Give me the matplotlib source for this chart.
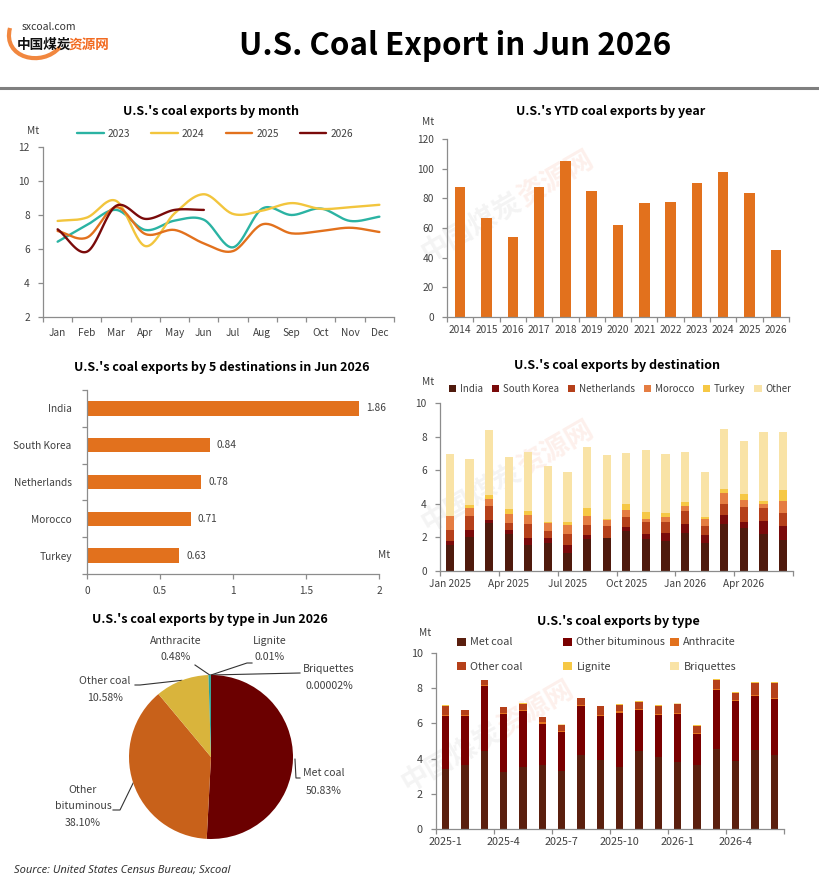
import numpy as np
import matplotlib
matplotlib.use("Agg")
import matplotlib.pyplot as plt
from matplotlib.path import Path
from matplotlib.patches import PathPatch

plt.rcParams['font.family'] = ['Noto Sans CJK SC', 'DejaVu Sans']

# ---------------- data ----------------
months = ["Jan", "Feb", "Mar", "Apr", "May", "Jun", "Jul", "Aug", "Sep", "Oct", "Nov", "Dec"]
y2023 = [6.43, 7.41, 8.30, 7.12, 7.67, 7.72, 6.10, 8.38, 8.00, 8.38, 7.65, 7.90]
y2024 = [7.65, 7.85, 8.83, 6.17, 8.10, 9.22, 8.06, 8.26, 8.70, 8.36, 8.46, 8.60]
y2025 = [7.06, 6.67, 8.46, 6.88, 7.12, 6.33, 5.88, 7.45, 6.92, 7.06, 7.25, 7.00]
y2026 = [7.16, 5.84, 8.54, 7.77, 8.30, 8.30]

ytd_years = ["2014", "2015", "2016", "2017", "2018", "2019", "2020", "2021", "2022",
             "2023", "2024", "2025", "2026"]
ytd_vals = [87.9, 66.8, 54.1, 87.7, 105.2, 85.0, 62.1, 76.9, 77.6, 90.4, 97.8, 83.7, 45.3]

top5_names = ["India", "South Korea", "Netherlands", "Morocco", "Turkey"]
top5_vals = [1.86, 0.84, 0.78, 0.71, 0.63]

dest_labels = ["Jan 2025", "", "", "Apr 2025", "", "", "Jul 2025", "", "", "Oct 2025", "", "",
               "Jan 2026", "", "", "Apr 2026", "", ""]
d_india = [1.55, 2.04, 2.87, 2.20, 1.54, 1.68, 1.07, 1.92, 1.96, 2.38, 1.90, 1.80,
           2.26, 1.66, 2.79, 2.55, 2.20, 1.86]
d_korea = [0.23, 0.40, 0.16, 0.24, 0.42, 0.28, 0.47, 0.22, 0.00, 0.23, 0.30, 0.46,
           0.53, 0.48, 0.54, 0.36, 0.77, 0.84]
d_neth = [0.66, 0.83, 0.83, 0.41, 0.83, 0.42, 0.66, 0.59, 0.71, 0.60, 0.71, 0.65,
          0.77, 0.53, 0.65, 0.89, 0.77, 0.78]
d_moroc = [0.83, 0.47, 0.42, 0.54, 0.54, 0.49, 0.53, 0.54, 0.36, 0.41, 0.18, 0.30,
           0.30, 0.42, 0.65, 0.42, 0.24, 0.71]
d_turkey = [0.00, 0.18, 0.23, 0.29, 0.23, 0.06, 0.18, 0.47, 0.06, 0.36, 0.41, 0.24,
            0.24, 0.12, 0.24, 0.35, 0.18, 0.63]
d_other = [3.68, 2.73, 3.87, 3.13, 3.51, 3.31, 2.97, 3.63, 3.82, 3.03, 3.69, 3.50,
           2.97, 2.67, 3.57, 3.15, 4.10, 3.48]

type_labels = ["2025-1", "", "", "2025-4", "", "", "2025-7", "", "", "2025-10", "", "",
               "2026-1", "", "", "2026-4", "", ""]
t_met = [3.43, 3.66, 4.45, 3.26, 3.54, 3.66, 3.31, 4.22, 3.94, 3.54, 4.45, 4.07,
         3.83, 3.66, 4.56, 3.88, 4.51, 4.22]
t_bit = [2.97, 2.78, 3.66, 3.26, 3.15, 2.32, 2.22, 2.75, 2.46, 3.07, 2.29, 2.43,
         2.72, 1.76, 3.36, 3.41, 3.03, 3.16]
t_anth = [0.06, 0.03, 0.07, 0.07, 0.05, 0.08, 0.04, 0.06, 0.06, 0.07, 0.06, 0.06,
          0.06, 0.05, 0.06, 0.06, 0.05, 0.04]
t_oth = [0.55, 0.27, 0.27, 0.32, 0.38, 0.28, 0.34, 0.39, 0.51, 0.38, 0.43, 0.45,
         0.49, 0.40, 0.50, 0.40, 0.72, 0.88]
t_lig = [0.03, 0.02, 0.03, 0.03, 0.03, 0.02, 0.02, 0.03, 0.03, 0.02, 0.03, 0.02,
         0.03, 0.02, 0.03, 0.03, 0.03, 0.03]
t_briq = [0.01, 0.01, 0.01, 0.01, 0.01, 0.01, 0.01, 0.01, 0.01, 0.01, 0.01, 0.01,
          0.01, 0.01, 0.01, 0.01, 0.01, 0.01]

pie_names = ["Met coal", "Other bituminous", "Other coal", "Anthracite", "Lignite", "Briquettes"]
pie_vals = [50.83, 38.10, 10.58, 0.48, 0.01, 0.00002]
pie_txt = ["50.83%", "38.10%", "10.58%", "0.48%", "0.01%", "0.00002%"]

# ---------------- layout helpers ----------------
W, H = 819, 882
fig = plt.figure(figsize=(W / 100, H / 100), dpi=100)
fig.patch.set_facecolor("white")

ov = fig.add_axes([0, 0, 1, 1])
ov.set_xlim(0, W)
ov.set_ylim(H, 0)
ov.axis("off")


def axpx(l, t, r, b):
    a = fig.add_axes([l / W, 1 - b / H, (r - l) / W, (b - t) / H])
    a.patch.set_alpha(0)
    return a


TICK = "#404040"
SPINE = "#8C8C8C"
FS = 7.3


def style(a, fs=FS):
    for s in ["top", "right"]:
        a.spines[s].set_visible(False)
    for s in ["left", "bottom"]:
        a.spines[s].set_color(SPINE)
        a.spines[s].set_linewidth(0.9)
    a.tick_params(which="both", colors=SPINE, labelcolor=TICK, labelsize=fs,
                  length=3.5, width=0.9)


def smooth(y, n=24):
    y = np.asarray(y, float)
    x = np.arange(len(y), dtype=float)
    m = np.zeros_like(y)
    m[1:-1] = (y[2:] - y[:-2]) / 2.0
    m[0] = (y[1] - y[0])
    m[-1] = (y[-1] - y[-2])
    xs, ys = [], []
    for i in range(len(y) - 1):
        t = np.linspace(0, 1, n, endpoint=(i == len(y) - 2))
        h00 = 2 * t**3 - 3 * t**2 + 1
        h10 = t**3 - 2 * t**2 + t
        h01 = -2 * t**3 + 3 * t**2
        h11 = t**3 - t**2
        xs.append(x[i] + t)
        ys.append(h00 * y[i] + h10 * m[i] + h01 * y[i + 1] + h11 * m[i + 1])
    return np.concatenate(xs), np.concatenate(ys)


# ---------------- watermarks ----------------
def watermark(x, y, size=20, rot=30, alpha=0.09):
    ov.text(x, y, "中国煤炭", fontsize=size, fontweight="bold", color="#808080",
            alpha=alpha, rotation=rot, ha="right", va="center", rotation_mode="anchor")
    ov.text(x, y, "资源网", fontsize=size, fontweight="bold", color="#F05A28",
            alpha=alpha, rotation=rot, ha="left", va="center", rotation_mode="anchor")


watermark(520, 200)
watermark(520, 470)
watermark(500, 730)

# ---------------- header ----------------
verts = [(10, 28), (2, 58), (42, 68), (60, 47)]
ov.add_patch(PathPatch(Path(verts, [Path.MOVETO, Path.CURVE4, Path.CURVE4, Path.CURVE4]),
                       fc="none", ec="#F07A2A", lw=3, alpha=0.9))
ov.text(22, 27, "sxcoal.com", fontsize=7.5, color="#333333", ha="left", va="center")
ov.text(17, 45, "中国煤炭", fontsize=9.8, fontweight="bold", color="#111111",
        ha="left", va="center")
ov.text(69, 45, "资源网", fontsize=9.8, fontweight="bold", color="#F26B21",
        ha="left", va="center")
ov.text(455, 46, "U.S. Coal Export in Jun 2026", fontsize=22.5, fontweight="bold",
        color="black", ha="center", va="center")
ov.plot([0, W], [88, 88], color="#7F7F7F", lw=2.2)

TFS = 9


def title(x, y, s):
    ov.text(x, y, s, fontsize=TFS, fontweight="bold", ha="center", va="center", color="black")


# ---------------- panel 1: line chart ----------------
a1 = axpx(43, 147, 394, 317)
style(a1)
for vals, col, lab in [(y2023, "#2BB3A3", "2023"), (y2024, "#F2C53D", "2024"),
                       (y2025, "#E2711D", "2025"), (y2026, "#7A0A0A", "2026")]:
    xs, ys = smooth(vals)
    a1.plot(xs, ys, color=col, lw=1.7, label=lab, solid_capstyle="round")
a1.set_xlim(-0.5, 11.5)
a1.set_ylim(2, 12)
a1.set_yticks([2, 4, 6, 8, 10, 12])
a1.set_xticks(np.arange(-0.5, 12, 1))
a1.set_xticklabels([])
a1.set_xticks(np.arange(12), minor=True)
a1.set_xticklabels(months, minor=True)
a1.tick_params(axis="x", which="minor", length=0, pad=8)
a1.tick_params(axis="y", pad=6)
title(211, 111, "U.S.'s coal exports by month")
ov.text(33, 131, "Mt", fontsize=FS, color=TICK, ha="center", va="center")
fig.legend(*a1.get_legend_handles_labels(), loc="center", bbox_to_anchor=(215 / W, 1 - 134 / H),
           ncol=4, frameon=False, fontsize=FS, handlelength=2.6, handletextpad=0.4,
           columnspacing=2.1, labelcolor=TICK)

# ---------------- panel 2: YTD bars ----------------
a2 = axpx(447, 139, 789, 317)
style(a2)
a2.bar(np.arange(len(ytd_vals)), ytd_vals, width=0.4, color="#E2711D")
a2.set_xlim(-0.5, len(ytd_vals) - 0.5)
a2.set_ylim(0, 120)
a2.set_yticks(np.arange(0, 121, 20))
a2.set_xticks(np.arange(-0.5, len(ytd_vals), 1))
a2.set_xticklabels([])
a2.set_xticks(np.arange(len(ytd_vals)), minor=True)
a2.set_xticklabels(ytd_years, minor=True)
a2.tick_params(axis="x", which="minor", length=0, pad=6)
a2.tick_params(axis="y", pad=6)
title(611, 112, "U.S.'s YTD coal exports by year")
ov.text(428, 122, "Mt", fontsize=FS, color=TICK, ha="center", va="center")

# ---------------- panel 3: top-5 horizontal bars ----------------
a3 = axpx(87, 390, 379, 574)
style(a3)
pos = np.arange(len(top5_vals))
a3.barh(pos, top5_vals, height=0.39, color="#E2711D")
a3.set_ylim(len(top5_vals) - 0.5, -0.5)
a3.set_xlim(0, 2)
a3.set_xticks([0, 0.5, 1, 1.5, 2])
a3.set_xticklabels(["0", "0.5", "1", "1.5", "2"])
a3.set_yticks(np.arange(-0.5, len(top5_vals), 1))
a3.set_yticklabels([])
a3.set_yticks(pos, minor=True)
a3.set_yticklabels(top5_names, minor=True)
a3.tick_params(axis="y", which="minor", length=0, pad=11)
a3.tick_params(axis="x", pad=5)
for p, v in zip(pos, top5_vals):
    a3.text(v + 0.05, p, f"{v:.2f}", fontsize=FS, color=TICK, va="center", ha="left")
title(222, 368, "U.S.'s coal exports by 5 destinations in Jun 2026")
ov.text(384, 555, "Mt", fontsize=FS, color=TICK, ha="center", va="center")

# ---------------- panel 4: destinations stacked ----------------
a4 = axpx(440, 403, 793, 571)
style(a4)
xd = np.arange(len(d_india))
bottom = np.zeros(len(xd))
dest_series = [("India", d_india, "#4F1A0D"), ("South Korea", d_korea, "#7A0A0A"),
               ("Netherlands", d_neth, "#B5401A"), ("Morocco", d_moroc, "#E57D42"),
               ("Turkey", d_turkey, "#F6C845"), ("Other", d_other, "#F9E3A6")]
for name, vals, col in dest_series:
    a4.bar(xd, vals, bottom=bottom, width=0.42, color=col, label=name)
    bottom = bottom + np.array(vals)
a4.set_xlim(-0.5, len(xd) - 0.5)
a4.set_ylim(0, 10)
a4.set_yticks([0, 2, 4, 6, 8, 10])
a4.set_xticks(np.arange(-0.5, len(xd), 3))
a4.set_xticklabels([])
a4.set_xticks(xd, minor=True)
a4.set_xticklabels(dest_labels, minor=True)
a4.tick_params(axis="x", which="minor", length=0, pad=6)
a4.tick_params(axis="y", pad=6)
title(617, 366, "U.S.'s coal exports by destination")
ov.text(428, 382, "Mt", fontsize=FS, color=TICK, ha="center", va="center")
fig.legend(*a4.get_legend_handles_labels(), loc="center", bbox_to_anchor=(620 / W, 1 - 389 / H),
           ncol=6, frameon=False, fontsize=7.0, handlelength=0.75, handleheight=0.75,
           handletextpad=0.4, columnspacing=0.9, labelcolor=TICK)

# ---------------- panel 5: pie ----------------
cx, cy, R = 211, 757, 82
a5 = axpx(cx - R, cy - R, cx + R, cy + R)
pie_cols = ["#6B0000", "#C8611A", "#D9B43C", "#2AA198", "#F6C845", "#F9E3A6"]
a5.pie(pie_vals, colors=pie_cols, startangle=90, counterclock=False, radius=1,
       wedgeprops=dict(linewidth=0))
a5.set_xlim(-1, 1)
a5.set_ylim(-1, 1)
a5.set_aspect("equal")
a5.axis("off")
title(210, 619, "U.S.'s coal exports by type in Jun 2026")

cum = np.cumsum([0] + pie_vals) / sum(pie_vals)
mids = (cum[:-1] + cum[1:]) / 2


def edge(i):
    ang = np.deg2rad(90 - mids[i] * 360)
    return cx + R * np.cos(ang), cy - R * np.sin(ang)


LC = "#333333"
LFS = 7.6
# Met coal
ex, ey = edge(0)
ov.plot([ex + 2, ex + 3, 300], [ey, 778, 778], color=LC, lw=0.8)
ov.text(324, 773, "Met coal", fontsize=LFS, color=TICK, ha="center", va="center")
ov.text(324, 791, pie_txt[0], fontsize=LFS, color=TICK, ha="center", va="center")
# Other bituminous
ex, ey = edge(1)
ov.plot([ex, 120, 113], [ey, 810, 810], color=LC, lw=0.8)
ov.text(83, 790, "Other", fontsize=LFS, color=TICK, ha="center", va="center")
ov.text(83, 806, "bituminous", fontsize=LFS, color=TICK, ha="center", va="center")
ov.text(83, 823, pie_txt[1], fontsize=LFS, color=TICK, ha="center", va="center")
# Other coal
ex, ey = edge(2)
ov.plot([ex, 140, 135], [ey, 685, 685], color=LC, lw=0.8)
ov.text(105, 681, "Other coal", fontsize=LFS, color=TICK, ha="center", va="center")
ov.text(105, 698, pie_txt[2], fontsize=LFS, color=TICK, ha="center", va="center")
# Anthracite
ex, ey = edge(3)
ov.plot([ex, 195], [ey, 665], color=LC, lw=0.8)
ov.text(176, 641, "Anthracite", fontsize=LFS, color=TICK, ha="center", va="center")
ov.text(176, 657, pie_txt[3], fontsize=LFS, color=TICK, ha="center", va="center")
# Lignite
ex, ey = edge(4)
ov.plot([ex, 247, 252], [ey, 663, 663], color=LC, lw=0.8)
ov.text(270, 641, "Lignite", fontsize=LFS, color=TICK, ha="center", va="center")
ov.text(270, 657, pie_txt[4], fontsize=LFS, color=TICK, ha="center", va="center")
# Briquettes
ex, ey = edge(5)
ov.plot([ex, 300], [ey, 673], color=LC, lw=0.8)
ov.text(329, 669, "Briquettes", fontsize=LFS, color=TICK, ha="center", va="center")
ov.text(329, 686, pie_txt[5], fontsize=LFS, color=TICK, ha="center", va="center")

# ---------------- panel 6: types stacked ----------------
a6 = axpx(436, 653, 784, 829)
style(a6, fs=7.8)
xt = np.arange(len(t_met))
bottom = np.zeros(len(xt))
type_series = [("Met coal", t_met, "#5A1F0E"), ("Other bituminous", t_bit, "#7A0000"),
               ("Anthracite", t_anth, "#E2711D"), ("Other coal", t_oth, "#B5401A"),
               ("Lignite", t_lig, "#F6C845"), ("Briquettes", t_briq, "#F9E3A6")]
handles = {}
for name, vals, col in type_series:
    c = a6.bar(xt, vals, bottom=bottom, width=0.38, color=col, label=name)
    handles[name] = c
    bottom = bottom + np.array(vals)
a6.set_xlim(-0.5, len(xt) - 0.5)
a6.set_ylim(0, 10)
a6.set_yticks([0, 2, 4, 6, 8, 10])
a6.set_xticks(np.arange(-0.5, len(xt), 3))
a6.set_xticklabels([])
a6.set_xticks(xt, minor=True)
a6.set_xticklabels(type_labels, minor=True)
a6.tick_params(axis="x", which="minor", length=0, pad=6)
a6.tick_params(axis="y", pad=6)
title(618, 621, "U.S.'s coal exports by type")
ov.text(425, 633, "Mt", fontsize=FS, color=TICK, ha="center", va="center")
cols_leg = [(["Met coal", "Other coal"], 452), (["Other bituminous", "Lignite"], 558),
            (["Anthracite", "Briquettes"], 665)]
for names, xl in cols_leg:
    fig.legend([handles[n] for n in names], names, loc="center left",
               bbox_to_anchor=(xl / W, 1 - 654.5 / H), frameon=False, fontsize=7.8,
               handlelength=0.75, handleheight=0.75, handletextpad=0.45,
               labelspacing=1.3, labelcolor=TICK, borderpad=0)

# ---------------- source ----------------
ov.text(14, 870, "Source: United States Census Bureau; Sxcoal", fontsize=8, color="#333333",
        fontstyle="italic", family=["Noto Sans", "DejaVu Sans"], ha="left", va="center")

fig.savefig("out.png", dpi=100, facecolor="white")
